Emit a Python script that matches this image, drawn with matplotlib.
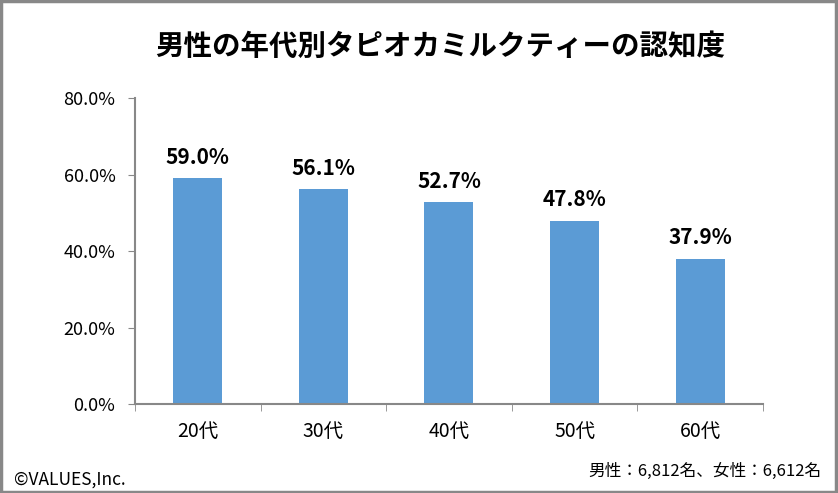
import matplotlib.pyplot as plt
from matplotlib.patches import Rectangle
import numpy as np

plt.rcParams['font.family'] = ['Noto Sans CJK JP', 'DejaVu Sans']

ages = ['20代', '30代', '40代', '50代', '60代']
awareness = [59.0, 56.1, 52.7, 47.8, 37.9]
yticks = [0, 20, 40, 60, 80]

fig = plt.figure(figsize=(8.38, 4.93), dpi=100)
ax = fig.add_axes([0.161, 0.1805, 0.7495, 0.6207])

x = np.arange(len(ages))
ax.bar(x, awareness, width=0.39, color='#5B9BD5')
for xi, v in zip(x, awareness):
    ax.text(xi, v + 2.8, '{:.1f}%'.format(v), ha='center', va='bottom',
            fontsize=15, fontweight='bold', color='black')

ax.set_xlim(-0.5, len(ages) - 0.5)
ax.set_ylim(0, 80)
ax.set_yticks(yticks)
ax.set_yticklabels(['{:.1f}%'.format(t) for t in yticks], fontsize=13)
ax.set_xticks(x)
ax.set_xticklabels(ages, fontsize=14)
ax.set_xticks(np.arange(len(ages) + 1) - 0.5, minor=True)
ax.tick_params(axis='x', which='major', length=0, pad=12)
ax.tick_params(axis='x', which='minor', length=5, color='#888888', direction='out')
ax.tick_params(axis='y', length=5, color='#888888', direction='out', pad=9)

for s in ['top', 'right']:
    ax.spines[s].set_visible(False)
for s in ['left', 'bottom']:
    ax.spines[s].set_color('#888888')
    ax.spines[s].set_linewidth(1.5)

fig.text(0.525, 0.905, '男性の年代別タピオカミルクティーの認知度', ha='center', va='center',
         fontsize=20.5, fontweight='bold')
fig.text(0.017, 0.027, '©VALUES,Inc.', ha='left', va='center', fontsize=12.5)
fig.text(0.98, 0.044, '男性：6,812名、女性：6,612名', ha='right', va='center', fontsize=12)

fig.patches.append(Rectangle((0.001, 0.002), 0.997, 0.995, transform=fig.transFigure,
                             fill=False, edgecolor='#888888', linewidth=2.5))

fig.savefig('out.png', dpi=100)
